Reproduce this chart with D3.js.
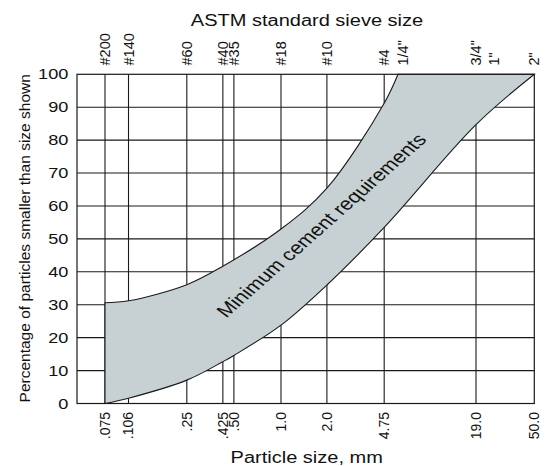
<!DOCTYPE html>
<html>
<head>
<meta charset="utf-8">
<script src="https://cdn.jsdelivr.net/npm/d3@7"></script>
<style>
  html, body { margin: 0; padding: 0; background: #fff; }
  text { font-family: "Liberation Sans", Arial, sans-serif; fill: #111; }
</style>
</head>
<body>
<div id="chart"></div>
<script>
// sieve openings, mm (bottom axis) and their ASTM names (top axis)
const sizeTicks = [0.075, 0.106, 0.25, 0.425, 0.5, 1.0, 2.0, 4.75, 19.0, 50.0];
const sizeLabels = [".075", ".106", ".25", ".425", ".50", "1.0", "2.0", "4.75", "19.0", "50.0"];
const sieveSizes = [0.075, 0.106, 0.25, 0.425, 0.5, 1.0, 2.0, 4.75, 6.35, 19.0, 25.4, 50.0];
const sieveLabels = ["#200", "#140", "#60", "#40", "#35", "#18", "#10", "#4", "1/4\"", "3/4\"", "1\"", "2\""];
const pctTicks = [0, 10, 20, 30, 40, 50, 60, 70, 80, 90, 100];

// band limits, percent passing
const upperSize = [0.075, 0.106, 0.25, 0.425, 1.0, 2.0, 4.75, 5.85];
const upperPct = [30.6, 31.2, 36.1, 41.7, 53.0, 65.4, 91.2, 100];
const lowerSize = [0.075, 0.106, 0.25, 0.425, 0.5, 1.0, 2.0, 4.75, 19.0, 50.0];
const lowerPct = [0, 1.6, 7.1, 12.7, 14.6, 23.8, 36, 53.5, 84.7, 100];

const bandLabel = "Minimum cement requirements";
const bandLabelAt = [2.0, 52.9];

const width = 546, height = 466;
const frame = { left: 77, right: 534.3, top: 74.3, bottom: 403.5 };
const sx = 1.25; // the horizontal lettering is drawn wide

const svg = d3.select("#chart").append("svg")
  .attr("width", width)
  .attr("height", height);

// hand drawn log axis, pinned at a few openings
const x = d3.scaleLog()
  .domain([0.075, 1, 19, 50])
  .range([105, 281, 476, frame.right]);

const y = d3.scaleLinear()
  .domain([0, 100])
  .range([frame.bottom, frame.top]);

// grid
const grid = svg.append("g")
  .attr("stroke", "#1a1a1a")
  .attr("stroke-width", 1.1);

grid.selectAll("line.h")
  .data(pctTicks.slice(1, -1))
  .join("line")
  .attr("class", "h")
  .attr("x1", frame.left).attr("x2", frame.right)
  .attr("y1", d => y(d)).attr("y2", d => y(d));

grid.selectAll("line.v")
  .data(sizeTicks.slice(0, -1))
  .join("line")
  .attr("class", "v")
  .attr("x1", d => x(d)).attr("x2", d => x(d))
  .attr("y1", frame.top).attr("y2", frame.bottom);

// band
const curve = d3.line()
  .x(d => x(d[0]))
  .y(d => y(d[1]))
  .curve(d3.curveCatmullRom.alpha(0.5));

const upperPts = upperSize.map((s, i) => [s, upperPct[i]]);
const lowerPts = lowerSize.map((s, i) => [s, lowerPct[i]]).reverse();

const bandPath = curve(upperPts) + curve(lowerPts).replace(/^M/, "L") + "Z";

svg.append("path")
  .attr("d", bandPath)
  .attr("fill", "#c7d1d4")
  .attr("stroke", "#1a1a1a")
  .attr("stroke-width", 1.1);

// frame
svg.append("rect")
  .attr("x", frame.left)
  .attr("y", frame.top)
  .attr("width", frame.right - frame.left)
  .attr("height", frame.bottom - frame.top)
  .attr("fill", "none")
  .attr("stroke", "#1a1a1a")
  .attr("stroke-width", 1.2);

// band label
svg.append("text")
  .attr("transform", `translate(${x(bandLabelAt[0])},${y(bandLabelAt[1])}) scale(${sx},1) rotate(-47.9)`)
  .attr("text-anchor", "middle")
  .style("font-size", "17.5px")
  .text(bandLabel);

// y tick labels
svg.selectAll("text.ytick")
  .data(pctTicks)
  .join("text")
  .attr("class", "ytick")
  .attr("transform", d => `translate(68.3,${y(d)}) scale(${sx},1)`)
  .attr("text-anchor", "end")
  .attr("dy", "0.35em")
  .style("font-size", "14.5px")
  .text(d => d);

// bottom tick labels
svg.selectAll("text.xtick")
  .data(sizeTicks)
  .join("text")
  .attr("class", "xtick")
  .attr("transform", d => `translate(${x(d)},412) rotate(-90)`)
  .attr("text-anchor", "end")
  .attr("dy", "0.35em")
  .style("font-size", "14px")
  .text((d, i) => sizeLabels[i]);

// top sieve labels
svg.selectAll("text.sieve")
  .data(sieveSizes)
  .join("text")
  .attr("class", "sieve")
  .attr("transform", d => `translate(${x(d)},65.5) rotate(-90)`)
  .attr("text-anchor", "start")
  .attr("dy", "0.35em")
  .style("font-size", "14.5px")
  .text((d, i) => sieveLabels[i]);

// titles
svg.append("text")
  .attr("transform", `translate(307,25.5) scale(${sx},1)`)
  .attr("text-anchor", "middle")
  .style("font-size", "16px")
  .text("ASTM standard sieve size");

svg.append("text")
  .attr("transform", `translate(306.7,463) scale(${sx},1)`)
  .attr("text-anchor", "middle")
  .style("font-size", "16px")
  .text("Particle size, mm");

svg.append("text")
  .attr("transform", "translate(29.5,238.3) rotate(-90)")
  .attr("text-anchor", "middle")
  .style("font-size", "15.5px")
  .text("Percentage of particles smaller than size shown");
</script>
</body>
</html>
